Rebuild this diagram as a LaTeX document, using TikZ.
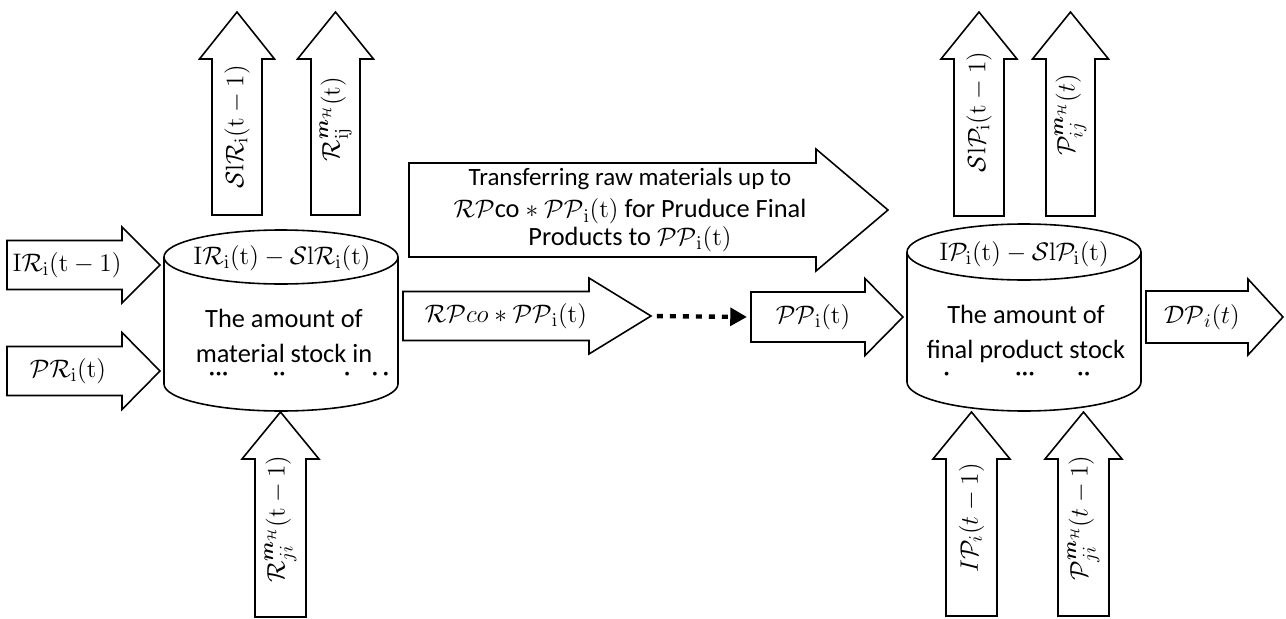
\documentclass[tikz,border=0pt]{standalone}
\usepackage{amsmath}
\usepackage[no-math]{fontspec}
\setmainfont{Carlito}
\usetikzlibrary{arrows.meta}

% block arrow: name, tail, angle, length, shaft, head width, head length, text pos, text
\newcommand{\blockarrow}[9]{%
  \begin{scope}[shift={#2},rotate=#3]
    \draw[blockline] (0,-#5/2) -- ({#4-#7},-#5/2) -- ({#4-#7},-#6/2) -- (#4,0)
      -- ({#4-#7},#6/2) -- ({#4-#7},#5/2) -- (0,#5/2) -- cycle;
    \coordinate (#1-tail) at (0,0);
    \coordinate (#1-tip) at (#4,0);
    \node[rotate=#3,align=center,inner sep=0pt] (#1) at (#8,0) {#9};
  \end{scope}}

\begin{document}
\begin{tikzpicture}[x=0.02cm,y=0.02cm,
    blockline/.style={line width=0.9pt,line join=miter},
    dotrow/.style={inner sep=0pt,text height=0.35em,text depth=0pt},
    font=\fontsize{15}{20}\selectfont]
    \useasboundingbox (0,0) rectangle (1286,-619);
    % raw material stock
    \draw[blockline] (281,-257) ellipse (117 and 27);
    \draw[blockline] (164,-257) -- (164,-384) arc (180:360:117 and 27) -- (398,-257);
    \node (rawlevel) at (282,-258) {$\mathrm{I}\mathcal{R}_{\mathrm{i}}(\mathrm{t})-\mathcal{S}\mathrm{l}\mathcal{R}_{\mathrm{i}}(\mathrm{t})$};
    \node[align=center,inner sep=0pt] (rawstock) at (284,-336) {The amount of\\material stock in};
    \node[dotrow] (rawdots) at (299,-378) {···\hspace{25pt}··\hspace{33pt}·\hspace{12pt}·\,·};
    % final product stock
    \draw[blockline] (1024,-252) ellipse (117 and 28);
    \draw[blockline] (907,-252) -- (907,-382) arc (180:360:117 and 29) -- (1141,-252);
    \node (prodlevel) at (1024,-254) {$\mathrm{I}\mathcal{P}_{\mathrm{i}}(\mathrm{t})-\mathcal{S}\mathrm{l}\mathcal{P}_{\mathrm{i}}(\mathrm{t})$};
    \node[align=center,inner sep=0pt] (prodstock) at (1026,-334) {The amount of\\final product stock};
    \node[dotrow] (proddots) at (1017,-378) {·\hspace{37pt}···\hspace{24pt}··};
    % inputs and outputs of the raw material stock
    \blockarrow{rawin}{(7,-265)}{0}{153}{49}{76}{38}{60}{$\mathrm{I}\mathcal{R}_{\mathrm{i}}(\mathrm{t}-1)$}
    \blockarrow{rawprod}{(7,-371)}{0}{153}{49}{77}{38}{61}{$\mathcal{PR}_{\mathrm{i}}(\mathrm{t})$}
    \blockarrow{rawsl}{(237,-215)}{90}{203}{50}{75}{47}{88}{$\mathcal{S}\mathrm{l}\mathcal{R}_{\mathrm{i}}(\mathrm{t}-1)$}
    \blockarrow{rawout}{(335.5,-215)}{90}{203}{49}{76}{47}{96}{$\mathcal{R}_{\mathrm{ij}}^{\boldsymbol{m}_{\mathcal{H}}}(\mathrm{t})$}
    \blockarrow{rawrecv}{(280.5,-617)}{90}{205}{51}{77}{47}{98}{$\mathcal{R}_{ji}^{\boldsymbol{m}_{\mathcal{H}}}(\mathrm{t}-1)$}
    % transfer to production
    \blockarrow{transfer}{(409,-210)}{0}{479}{94}{122}{72}{221}{\fontsize{14.2}{20}\selectfont
      Transferring raw materials up to\\[-1.8pt]
      $\mathcal{RP}$co $\ast$ $\mathcal{PP}_{\mathrm{i}}(\mathrm{t})$ for Pruduce Final\\[-4.6pt]
      Products to $\mathcal{PP}_{\mathrm{i}}(\mathrm{t})$}
    \blockarrow{rawuse}{(403,-316)}{0}{248}{49}{76}{62}{103}{$\mathcal{RP}co\ast\mathcal{PP}_{\mathrm{i}}(\mathrm{t})$}
    \blockarrow{prodin}{(751,-317)}{0}{152}{50}{77}{38}{62}{$\mathcal{PP}_{\mathrm{i}}(\mathrm{t})$}
    \draw[line width=2.5pt,dash pattern=on 3.4pt off 4pt,-{Triangle[length=9.5pt,width=10pt]},
      shorten <=3.4pt,shorten >=2.3pt] (rawuse-tip) -- (prodin-tail);
    % inputs and outputs of the final product stock
    \blockarrow{prodsl}{(979,-216)}{90}{204}{50}{76}{47}{104}{$\mathcal{S}\mathrm{l}\mathcal{P}_{\mathrm{i}}(\mathrm{t}-1)$}
    \blockarrow{prodout}{(1070.5,-216)}{90}{204}{49}{76}{47}{101}{$\mathcal{P}_{ij}^{\boldsymbol{m}_{\mathcal{H}}}(t)$}
    \blockarrow{prodinv}{(971.5,-616)}{90}{204}{51}{77}{47}{98}{$I\mathcal{P}_i(t-1)$}
    \blockarrow{prodrecv}{(1083.5,-616)}{90}{204}{51}{77}{47}{98}{$\mathcal{P}_{ji}^{\boldsymbol{m}_{\mathcal{H}}}(t-1)$}
    \blockarrow{demand}{(1146,-317)}{0}{137}{52}{76}{35}{56}{$\mathcal{DP}_i(t)$}
\end{tikzpicture}
\end{document}
